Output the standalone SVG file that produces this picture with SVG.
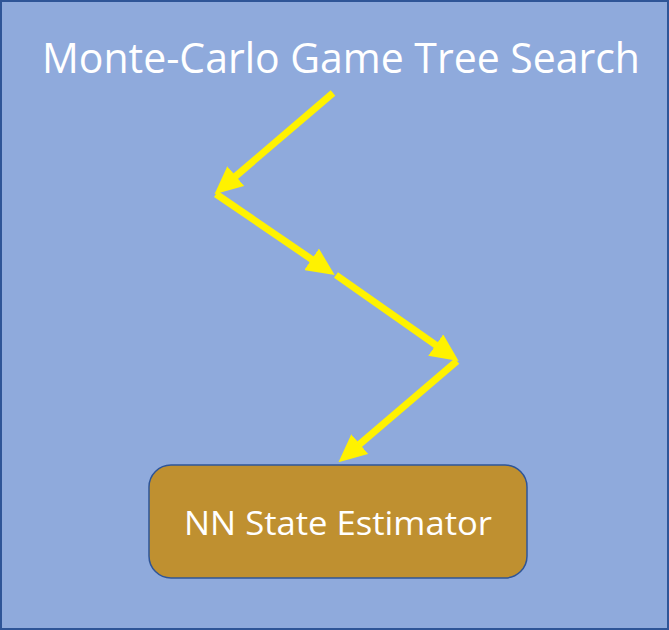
<svg xmlns="http://www.w3.org/2000/svg" width="669" height="630" viewBox="0 0 669 630">
<defs>
<style>
.conn{stroke:#FFF200;stroke-width:7;fill:none;marker-end:url(#ah)}
.t{font-family:"Open Sans","Noto Sans",sans-serif;fill:#FFFFFF}
</style>
<marker id="ah" markerUnits="userSpaceOnUse" viewBox="0 0 28 26" markerWidth="28" markerHeight="26" refX="16" refY="13" orient="auto">
<path d="M0,0 L28,13 L0,26 Z" fill="#FFF200"/>
</marker>
</defs>
<rect x="1" y="1" width="667" height="628" fill="#8FAADC" stroke="#2F5597" stroke-width="2"/>
<g id="title">
<text class="t" x="341" y="73" font-size="42" text-anchor="middle" textLength="598" lengthAdjust="spacingAndGlyphs">Monte-Carlo Game Tree Search</text>
</g>
<g id="connectors">
<line class="conn" x1="333" y1="93" x2="223.6" y2="186.5"/>
<line class="conn" x1="216" y1="194" x2="324.8" y2="268.3"/>
<line class="conn" x1="336" y1="275" x2="448.8" y2="354.2"/>
<line class="conn" x1="457" y1="361" x2="347.6" y2="454.5"/>
</g>
<g id="nn">
<rect x="149" y="465" width="378" height="113" rx="22" ry="22" fill="#BF9030" stroke="#2F5597" stroke-width="1.5"/>
<text class="t" x="338" y="535" font-size="33" text-anchor="middle" textLength="308" lengthAdjust="spacingAndGlyphs">NN State Estimator</text>
</g>
</svg>
